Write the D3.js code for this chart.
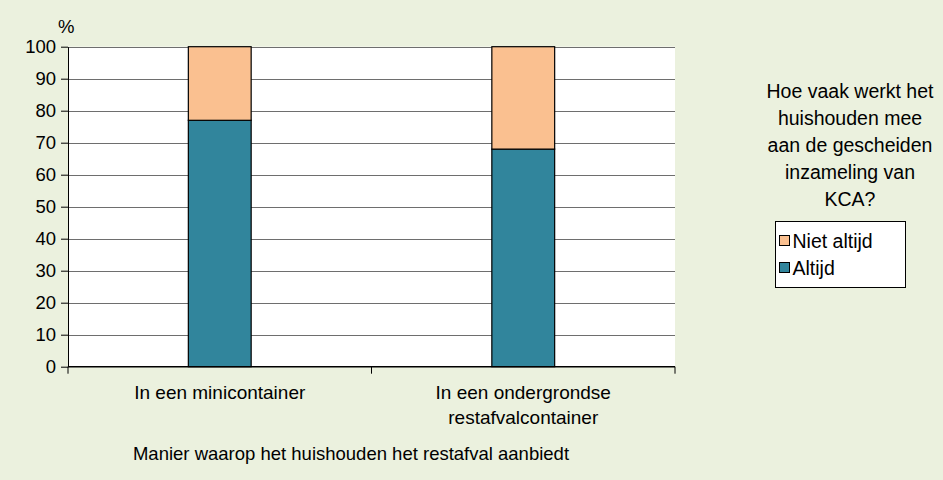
<!DOCTYPE html>
<html>
<head>
<meta charset="utf-8">
<script src="https://cdn.jsdelivr.net/npm/d3@7"></script>
<style>
  body { margin: 0; background: #ebf1de; }
  svg text { font-family: "Liberation Sans", Arial, sans-serif; fill: #000; }
</style>
</head>
<body>
<svg id="chart"></svg>
<script>
var categories = [["In een minicontainer"], ["In een ondergrondse", "restafvalcontainer"]];
var altijd = [77, 68];
var nietAltijd = [23, 32];
var yTicks = [0, 10, 20, 30, 40, 50, 60, 70, 80, 90, 100];
var seriesNames = ["Niet altijd", "Altijd"];
var legendTitle = ["Hoe vaak werkt het", "huishouden mee", "aan de gescheiden", "inzameling van", "KCA?"];
var colors = { "Altijd": "#31859c", "Niet altijd": "#fac090" };

var width = 943, height = 480;
var margin = { left: 68, right: 268, top: 46.7, bottom: 113.3 };

var svg = d3.select('#chart')
  .attr('width', width)
  .attr('height', height);

svg.append('rect').attr('width', width).attr('height', height).attr('fill', '#ebf1de');

var x = d3.scaleBand()
  .domain(d3.range(categories.length))
  .range([margin.left, width - margin.right]);

var y = d3.scaleLinear()
  .domain([0, 100])
  .range([height - margin.bottom, margin.top]);

// plot area
svg.append('rect')
  .attr('x', margin.left)
  .attr('y', margin.top)
  .attr('width', width - margin.right - margin.left)
  .attr('height', y(0) - margin.top)
  .attr('fill', '#fff');

// grid
svg.selectAll('line.grid')
  .data(yTicks.slice(1))
  .enter()
  .append('line')
  .attr('x1', margin.left)
  .attr('x2', width - margin.right)
  .attr('y1', function(d) { return Math.round(y(d)) + 0.5; })
  .attr('y2', function(d) { return Math.round(y(d)) + 0.5; })
  .attr('stroke', '#6e6e6e')
  .attr('stroke-width', 1);

var barW = x.bandwidth() * 0.207;
var stack = [];
altijd.forEach(function(v, i) {
  stack.push({ i: i, s: "Altijd", y0: 0, y1: v });
  stack.push({ i: i, s: "Niet altijd", y0: v, y1: v + nietAltijd[i] });
});

svg.selectAll('rect.bar')
  .data(stack)
  .enter()
  .append('rect')
  .attr('x', function(d) { return x(d.i) + x.bandwidth() / 2 - barW / 2; })
  .attr('y', function(d) { return y(d.y1); })
  .attr('width', barW)
  .attr('height', function(d) { return y(d.y0) - y(d.y1); })
  .attr('fill', function(d) { return colors[d.s]; })
  .attr('stroke', '#000')
  .attr('stroke-width', 1.2);

// y axis
var yAxis = svg.append('g')
  .attr('transform', 'translate(' + margin.left + ',0)')
  .call(d3.axisLeft(y).tickValues(yTicks).tickSize(7).tickPadding(5).tickSizeOuter(0));
yAxis.selectAll('text').style('font-size', '18.5px');
yAxis.selectAll('line, path').attr('stroke', '#000');

// x axis
var xAxis = svg.append('g')
  .attr('transform', 'translate(0,' + y(0) + ')');
xAxis.append('line')
  .attr('x1', margin.left).attr('x2', width - margin.right)
  .attr('stroke', '#000').attr('stroke-width', 1.5);
var xTickPos = d3.range(categories.length + 1).map(function(i) {
  return i < categories.length ? x(i) : x(i - 1) + x.bandwidth();
});
xAxis.selectAll('line.tick')
  .data(xTickPos)
  .enter()
  .append('line')
  .attr('x1', function(d) { return d; })
  .attr('x2', function(d) { return d; })
  .attr('y1', 0).attr('y2', 7)
  .attr('stroke', '#000');

categories.forEach(function(lines, i) {
  var t = xAxis.append('text')
    .attr('text-anchor', 'middle')
    .attr('x', x(i) + x.bandwidth() / 2)
    .attr('y', 32)
    .style('font-size', '19px');
  lines.forEach(function(l, k) {
    t.append('tspan')
      .attr('x', x(i) + x.bandwidth() / 2)
      .attr('dy', k === 0 ? 0 : 25)
      .text(l);
  });
});

svg.append('text')
  .attr('x', 58).attr('y', 33)
  .style('font-size', '18.5px')
  .text('%');

svg.append('text')
  .attr('x', 351).attr('y', 460)
  .attr('text-anchor', 'middle')
  .style('font-size', '18.5px')
  .text('Manier waarop het huishouden het restafval aanbiedt');

// legend
svg.selectAll('text.ltitle')
  .data(legendTitle)
  .enter()
  .append('text')
  .attr('x', 850)
  .attr('y', function(d, i) { return 98 + i * 27; })
  .attr('text-anchor', 'middle')
  .style('font-size', '19.5px')
  .text(function(d) { return d; });

svg.append('rect')
  .attr('x', 775.5).attr('y', 221.5)
  .attr('width', 130).attr('height', 66)
  .attr('fill', '#fff')
  .attr('stroke', '#000');

var leg = svg.selectAll('g.leg')
  .data(seriesNames)
  .enter()
  .append('g')
  .attr('transform', function(d, i) { return 'translate(779.5,' + (235.5 + i * 27) + ')'; });
leg.append('rect')
  .attr('width', 10).attr('height', 10)
  .attr('fill', function(d) { return colors[d]; })
  .attr('stroke', '#000');
leg.append('text')
  .attr('x', 13).attr('y', 12)
  .style('font-size', '19.5px')
  .text(function(d) { return d; });
</script>
</body>
</html>
